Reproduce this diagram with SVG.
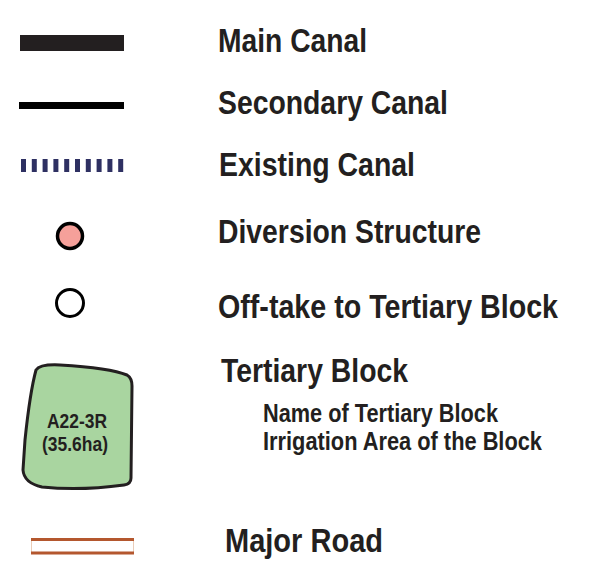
<svg xmlns="http://www.w3.org/2000/svg" width="605" height="563" viewBox="0 0 605 563">
<style>
.t{font-family:"Liberation Sans Narrow","Liberation Sans",Arial,sans-serif;font-weight:bold;fill:#231f20}
.h{font-size:33px}
.s{font-size:25px}
.b{font-size:21px;text-anchor:middle}
</style>
<rect width="605" height="563" fill="#ffffff"/>
<g id="main-canal">
<rect x="20" y="35" width="104" height="16" fill="#231f20"/>
<text class="t h" x="218" y="52" textLength="149" lengthAdjust="spacingAndGlyphs">Main Canal</text>
</g>
<g id="secondary-canal">
<rect x="19" y="102" width="105" height="7" fill="#000000"/>
<text class="t h" x="218" y="114" textLength="230" lengthAdjust="spacingAndGlyphs">Secondary Canal</text>
</g>
<g id="existing-canal">
<line x1="21" y1="165.5" x2="125" y2="165.5" stroke="#2e3062" stroke-width="13" stroke-dasharray="5 5.8"/>
<text class="t h" x="219" y="176" textLength="196" lengthAdjust="spacingAndGlyphs">Existing Canal</text>
</g>
<g id="diversion-structure">
<circle cx="70" cy="236" r="12.5" fill="#f5a09a" stroke="#000000" stroke-width="3.5"/>
<text class="t h" x="218" y="243" textLength="263" lengthAdjust="spacingAndGlyphs">Diversion Structure</text>
</g>
<g id="off-take">
<circle cx="70" cy="303" r="13.5" fill="#ffffff" stroke="#000000" stroke-width="3"/>
<text class="t h" x="218" y="318" textLength="340" lengthAdjust="spacingAndGlyphs">Off-take to Tertiary Block</text>
</g>
<g id="tertiary-block">
<path d="M36,370 Q40,364 60,365 Q110,368 127,375 Q132,378 132,386 L131,478 Q131,484 124,485 Q80,491 42,487 Q24,483 23,470 L25,440 Q30,392 36,370 Z" fill="#a9d5a0" stroke="#231f20" stroke-width="3"/>
<text class="t b" x="77" y="428" textLength="60" lengthAdjust="spacingAndGlyphs">A22-3R</text>
<text class="t b" x="75" y="451" textLength="66" lengthAdjust="spacingAndGlyphs">(35.6ha)</text>
<text class="t h" x="221" y="382" textLength="187" lengthAdjust="spacingAndGlyphs">Tertiary Block</text>
<text class="t s" x="263" y="422" textLength="235" lengthAdjust="spacingAndGlyphs">Name of Tertiary Block</text>
<text class="t s" x="263" y="450" textLength="279" lengthAdjust="spacingAndGlyphs">Irrigation Area of the Block</text>
</g>
<g id="major-road">
<rect x="31.5" y="539.5" width="102" height="13" fill="none" stroke="#eacdb8" stroke-width="1"/>
<line x1="31" y1="539.5" x2="134" y2="539.5" stroke="#b4572e" stroke-width="3"/>
<line x1="31" y1="553" x2="134" y2="553" stroke="#b4572e" stroke-width="3"/>
<text class="t h" x="225" y="552" textLength="158" lengthAdjust="spacingAndGlyphs">Major Road</text>
</g>
</svg>
